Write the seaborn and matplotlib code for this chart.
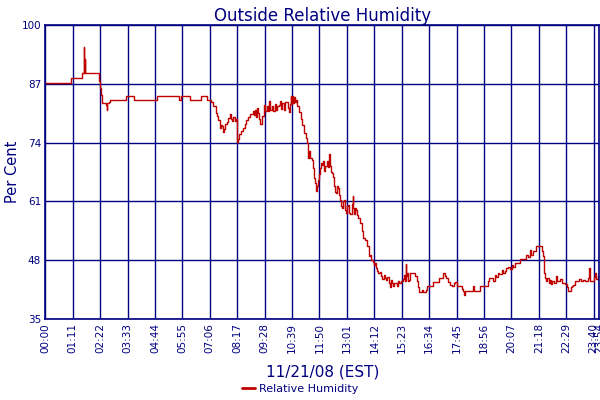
import matplotlib
matplotlib.use("Agg")
import matplotlib.pyplot as plt
import pandas as pd
import seaborn as sns

sns.set_theme(style="white")
plt.rcParams["font.family"] = ["DejaVu Sans"]

NAVY = "#000080"
RED = "#c00000"

# minutes after midnight, relative humidity (%)
minutes = [
    0, 66, 94, 99, 100, 101, 102, 103, 139, 141, 144, 147, 157, 159, 161, 165, 168,
    209, 230, 288, 346, 351, 374, 403, 418, 428, 434, 441, 445, 447, 452, 455, 458,
    461, 463, 466, 470, 474, 478, 480, 483, 487, 490, 494, 497, 500, 502, 506, 512,
    516, 520, 524, 529, 538, 540, 543, 545, 548, 550, 553, 557, 561, 566, 569, 572,
    574, 577, 580, 583, 586, 590, 594, 597, 601, 605, 608, 611, 614, 617, 620, 624,
    628, 631, 633, 635, 637, 639, 641, 644, 647, 649, 652, 657, 662, 665, 670, 675,
    678, 680, 683, 686, 690, 693, 697, 699, 701, 704, 706, 709, 711, 714, 717, 719,
    722, 725, 729, 731, 734, 736, 737, 740, 742, 745, 748, 751, 753, 755, 758, 760,
    763, 765, 768, 771, 773, 776, 779, 781, 784, 786, 789, 793, 796, 798, 800, 803,
    805, 808, 810, 815, 820, 823, 828, 833, 838, 841, 843, 848, 852, 854, 856, 859,
    862, 867, 870, 872, 877, 880, 882, 886, 890, 893, 895, 898, 900, 904, 908, 911,
    913, 916, 918, 922, 926, 930, 932, 934, 935, 937, 940, 942, 944, 952, 958, 962,
    965, 968, 975, 978, 986, 989, 998, 1005, 1014, 1020, 1029, 1034, 1038, 1043,
    1048, 1052, 1057, 1061, 1066, 1074, 1078, 1082, 1084, 1088, 1093, 1100, 1107,
    1110, 1126, 1139, 1146, 1150, 1153, 1158, 1164, 1168, 1172, 1176, 1182, 1186,
    1190, 1194, 1199, 1204, 1208, 1212, 1216, 1229, 1236, 1245, 1250, 1255, 1257,
    1262, 1271, 1283, 1286, 1289, 1291, 1293, 1297, 1300, 1304, 1307, 1310, 1312,
    1316, 1322, 1325, 1328, 1333, 1337, 1341, 1346, 1351, 1354, 1357, 1360, 1363,
    1367, 1372, 1376, 1381, 1386, 1392, 1397, 1402, 1405, 1408, 1410, 1416, 1420,
    1423, 1426, 1431, 1434,
]
humidity = [
    87.1, 88.2, 89.3, 91.5, 95.2, 89.3, 92.4, 89.3, 87.6, 86.0, 84.6, 82.8, 82.4, 81.3, 82.8, 83.0, 83.4,
    84.3, 83.4, 84.3, 83.4, 84.3, 83.4, 84.3, 83.4, 83.0, 82.2, 80.6, 79.8, 79.1, 77.3, 78.0, 77.6,
    76.3, 77.0, 78.2, 78.5, 79.5, 80.4, 79.2, 78.7, 79.6, 78.7, 79.2, 74.1, 74.8, 75.9, 76.5, 77.3,
    78.2, 79.1, 79.6, 80.4, 80.9, 80.0, 81.1, 79.7, 81.6, 80.5, 79.2, 78.1, 79.8, 82.4, 81.0, 80.9,
    82.2, 81.0, 83.3, 81.3, 82.0, 80.9, 82.5, 81.3, 82.0, 82.4, 83.1, 81.5, 82.8, 81.3, 83.0, 83.0,
    81.6, 80.7, 82.5, 84.4, 82.6, 84.4, 82.7, 84.0, 83.0, 83.5, 82.0, 80.7, 79.2, 78.0, 76.1, 75.0,
    73.9, 70.6, 72.1, 70.6, 70.2, 68.4, 66.2, 65.0, 63.2, 64.5, 65.8, 67.0, 68.4, 69.5, 69.1, 70.0,
    67.7, 68.8, 69.9, 68.5, 71.4, 70.0, 68.8, 67.5, 67.3, 66.5, 64.3, 63.0, 62.9, 64.5, 64.0, 62.5,
    61.4, 60.0, 59.6, 61.0, 61.4, 59.0, 58.5, 60.0, 60.3, 58.5, 58.3, 60.5, 62.1, 59.5, 58.3, 59.5,
    59.2, 58.0, 57.3, 56.2, 54.4, 52.9, 52.5, 51.1, 48.9, 49.2, 48.0, 47.7, 47.0, 47.4, 46.3, 45.7,
    45.2, 45.5, 44.5, 43.8, 44.8, 44.0, 43.7, 44.2, 43.0, 42.0, 43.7, 43.0, 42.2, 43.0, 43.0, 42.3,
    43.3, 43.0, 43.0, 43.5, 43.8, 44.8, 43.5, 47.2, 44.5, 45.2, 43.5, 43.7, 45.2, 45.2, 44.4, 43.3,
    42.0, 40.9, 41.5, 40.9, 41.5, 42.2, 42.2, 43.1, 43.1, 44.1, 45.2, 44.6, 44.1, 43.1,
    42.6, 42.2, 43.0, 43.1, 42.2, 42.2, 41.6, 41.3, 40.4, 41.1, 41.1, 41.1, 42.4,
    41.1, 42.2, 42.2, 43.3, 44.0, 44.1, 43.5, 44.8, 44.2, 45.2, 45.0, 45.9, 45.2,
    45.6, 46.2, 46.6, 46.0, 47.0, 46.6, 47.4, 48.3, 48.3, 49.2, 48.7, 50.2, 49.2,
    50.0, 51.1, 51.1, 50.0, 48.9, 45.2, 44.1, 43.3, 44.0, 43.0, 43.7, 42.8, 43.3,
    43.0, 44.4, 43.3, 43.3, 43.8, 43.0, 43.0, 42.8, 42.0, 41.3, 41.3, 42.0, 42.2,
    42.6, 43.3, 43.3, 43.8, 43.3, 43.6, 43.3, 43.3, 44.0, 46.3, 43.3, 43.5, 44.2,
    45.2, 43.8, 44.4, 44.4,
]

tick_minutes = [0, 71, 142, 213, 284, 355, 426, 497, 568, 639, 710, 781, 852, 923,
                994, 1065, 1136, 1207, 1278, 1349, 1420, 1434]
tick_labels = ["00:00", "01:11", "02:22", "03:33", "04:44", "05:55", "07:06", "08:17",
               "09:28", "10:39", "11:50", "13:01", "14:12", "15:23", "16:34", "17:45",
               "18:56", "20:07", "21:18", "22:29", "23:40", "23:54"]
y_ticks = [35, 48, 61, 74, 87, 100]

df = pd.DataFrame({"minute": minutes, "rh": humidity})

fig = plt.figure(figsize=(6, 4), dpi=100)
fig.patch.set_facecolor("white")
ax = fig.add_axes([0.0755, 0.2025, 0.923, 0.735])

sns.lineplot(data=df, x="minute", y="rh", ax=ax, color=RED, linewidth=1.0,
             drawstyle="steps-post", label="Relative Humidity", legend=False)

ax.set_xlim(0, 1434)
ax.set_ylim(35, 100)
ax.set_xticks(tick_minutes)
ax.set_xticklabels(tick_labels, rotation=90, fontsize=7.5, color=NAVY)
ax.set_yticks(y_ticks)
ax.set_yticklabels([str(v) for v in y_ticks], fontsize=7.5, color=NAVY)
ax.tick_params(length=0, pad=3)

ax.grid(True, color=NAVY, linewidth=1.0)
ax.set_axisbelow(True)
for s in ax.spines.values():
    s.set_color(NAVY)
    s.set_linewidth(1.2)

ax.set_title("Outside Relative Humidity", fontsize=12, color=NAVY, pad=3)
ax.set_ylabel("Per Cent", fontsize=10.5, color=NAVY)
ax.yaxis.set_label_coords(-0.045, 0.5)
ax.set_xlabel("11/21/08 (EST)", fontsize=11, color=NAVY, labelpad=8)

handles, labels = ax.get_legend_handles_labels()
leg = fig.legend(handles, labels, loc="lower center", bbox_to_anchor=(0.5, -0.01),
                 frameon=False, fontsize=8, handlelength=1.2, handletextpad=0.3)
for t in leg.get_texts():
    t.set_color(NAVY)
for h in leg.legend_handles:
    h.set_linewidth(2)

fig.savefig("out.png", dpi=100)
